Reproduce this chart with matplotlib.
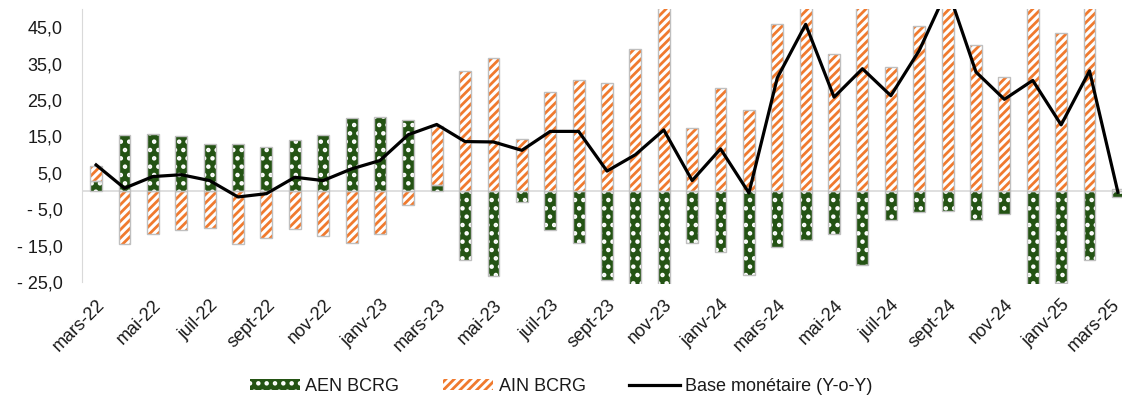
import matplotlib
matplotlib.use("Agg")
import matplotlib.pyplot as plt
from matplotlib.patches import Patch
from matplotlib.lines import Line2D
from matplotlib.transforms import ScaledTranslation
import numpy as np

plt.rcParams['font.family'] = ['Liberation Sans', 'DejaVu Sans']
plt.rcParams['hatch.linewidth'] = 2.0

months = ["mars-22", "avr.-22", "mai-22", "juin-22", "juil-22", "août-22", "sept-22",
          "oct.-22", "nov-22", "déc.-22", "janv-23", "févr.-23", "mars-23", "avr.-23",
          "mai-23", "juin-23", "juil-23", "août-23", "sept-23", "oct.-23", "nov-23",
          "déc.-23", "janv-24", "févr.-24", "mars-24", "avr.-24", "mai-24", "juin-24",
          "juil-24", "août-24", "sept-24", "oct.-24", "nov-24", "déc.-24", "janv-25",
          "févr.-25", "mars-25"]

aen = [2.9, 15.3, 15.8, 15.0, 12.8, 12.8, 12.1, 13.9, 15.3, 20.1, 20.3, 19.4, 1.7,
       -19.0, -23.2, -3.0, -10.8, -14.2, -24.4, -25.8, -25.8, -14.2, -16.8, -22.9,
       -15.4, -13.4, -11.9, -20.4, -7.8, -5.8, -5.5, -7.8, -6.4, -25.8, -25.3, -18.9, -1.5]

ain = [4.1, -14.5, -11.7, -10.6, -10.2, -14.5, -12.9, -10.3, -12.4, -14.2, -11.8, -3.9,
       16.3, 32.9, 36.6, 14.4, 27.2, 30.4, 29.8, 38.9, 58.0, 17.3, 28.3, 22.2, 46.0,
       55.0, 37.7, 57.0, 34.1, 45.3, 60.0, 40.2, 31.3, 56.0, 43.4, 54.0, 0.6]

base = [7.2, 0.8, 4.0, 4.5, 2.9, -1.6, -0.7, 3.8, 2.9, 6.1, 8.4, 15.5, 18.3, 13.6, 13.5,
        11.2, 16.4, 16.4, 5.5, 10.0, 16.8, 2.9, 11.6, -0.5, 31.1, 45.8, 25.8, 33.6, 26.2,
        38.6, 55.5, 32.7, 25.2, 30.4, 18.2, 33.0, -0.3]

green = "#245314"
orange = "#F07A2E"
edge = "#BFBFBF"
txt = "#1a1a1a"
fs = 13

x = np.arange(len(months))
aen_a = np.array(aen)
ain_a = np.array(ain)
# Excel stacking: positives on positives, negatives on negatives
ain_bottom = np.where(np.sign(aen_a) == np.sign(ain_a), aen_a, 0.0)
w = 0.42

fig = plt.figure(figsize=(11.22, 4.0), dpi=100)
ax = fig.add_axes([0.073, 0.29, 0.936, 0.6875])

ax.axhline(0, color="#D9D9D9", lw=1.2, zorder=1)

# fills with white pattern, then grey outline on top
ax.bar(x, aen_a, w, color=green, edgecolor="white", hatch="..", lw=0, zorder=2)
ax.bar(x, aen_a, w, fill=False, edgecolor=edge, lw=1.0, zorder=3)
ax.bar(x, ain_a, w, bottom=ain_bottom, color="white", edgecolor=orange, hatch="////",
       lw=0, zorder=2)
ax.bar(x, ain_a, w, bottom=ain_bottom, fill=False, edgecolor=edge, lw=1.0, zorder=3)

ax.plot(x, base, color="black", lw=2.3, zorder=4)

ax.set_xlim(-0.5, len(months) - 0.5)
ax.set_ylim(-25.5, 50)

yt = np.arange(-25, 50, 10)
def fmt(v):
    s = f"{abs(v):.1f}".replace(".", ",")
    return "- " + s if v < 0 else s
ax.set_yticks(yt)
ax.set_yticklabels([fmt(v) for v in yt], fontsize=fs, color=txt)

ax.set_xticks(x[::2])
ax.set_xticklabels(months[::2], rotation=45, ha="right", va="top",
                   rotation_mode="anchor", fontsize=fs, color=txt)
ax.tick_params(axis="both", length=0)
ax.tick_params(axis="x", pad=9)
ax.tick_params(axis="y", pad=14)

# keep the last month label inside the picture
last = ax.get_xticklabels()[-1]
last.set_transform(last.get_transform() + ScaledTranslation(-5 / 72, 0, fig.dpi_scale_trans))

for s in ["top", "right", "bottom"]:
    ax.spines[s].set_visible(False)
ax.spines["left"].set_color("#D9D9D9")
ax.spines["left"].set_bounds(-25, 50)

handles = [
    Patch(facecolor=green, edgecolor="white", hatch="..", lw=0),
    Patch(facecolor="white", edgecolor=orange, hatch="////", lw=0),
    Line2D([0], [0], color="black", lw=2.3),
]
labels = ["AEN BCRG", "AIN BCRG", "Base monétaire (Y-o-Y)"]
fig.legend(handles, labels, loc="center", bbox_to_anchor=(0.5, 0.033), ncol=3,
           frameon=False, fontsize=fs, handlelength=2.8, handleheight=0.55,
           columnspacing=2.4, handletextpad=0.3, labelcolor=txt)

fig.savefig("out.png", dpi=100)
